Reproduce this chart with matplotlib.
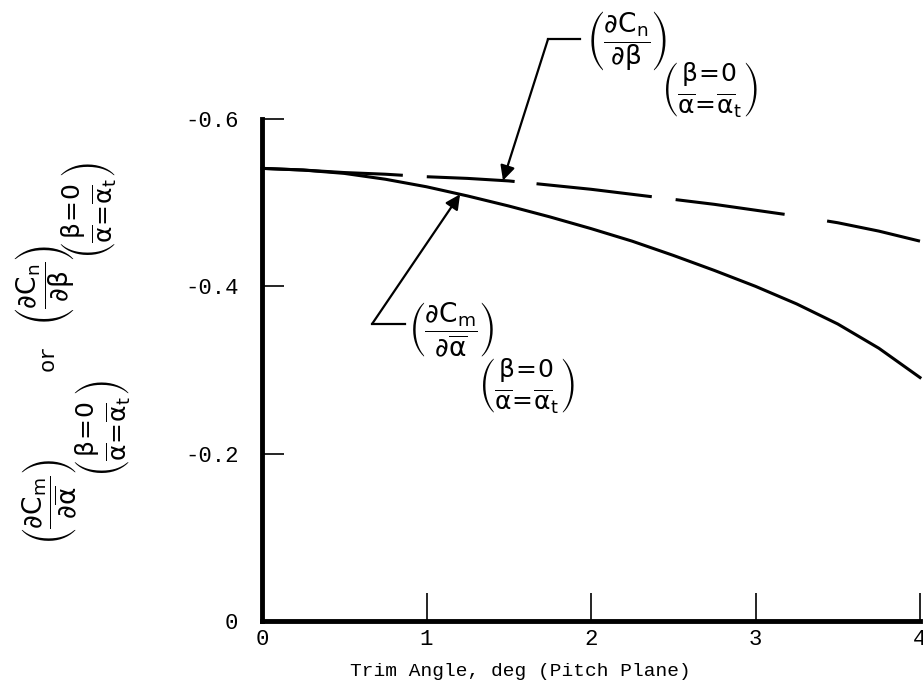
import numpy as np
import matplotlib
matplotlib.use("Agg")
import matplotlib.pyplot as plt

plt.rcParams["font.family"] = ["Liberation Mono", "DejaVu Sans Mono"]
plt.rcParams["mathtext.fontset"] = "dejavusans"
plt.rcParams["mathtext.default"] = "rm"
plt.rcParams["axes.unicode_minus"] = False

# trim angle, deg
trim_angle = [0, 0.25, 0.5, 0.75, 1.0, 1.25, 1.5, 1.75, 2.0,
              2.25, 2.5, 2.75, 3.0, 3.25, 3.5, 3.75, 4.0]
# yaw derivative dCn/dbeta (dashed)
dcn_dbeta = [-0.541, -0.539, -0.536, -0.534, -0.531, -0.529, -0.526, -0.521, -0.516,
             -0.510, -0.504, -0.498, -0.491, -0.484, -0.476, -0.466, -0.454]
# pitch derivative dCm/dalpha (solid)
dcm_dalpha = [-0.541, -0.539, -0.535, -0.528, -0.519, -0.508, -0.496, -0.483, -0.469,
              -0.454, -0.437, -0.419, -0.400, -0.379, -0.355, -0.326, -0.291]

x_ticks = [0, 1, 2, 3, 4]
x_ticklabels = ["0", "1", "2", "3", "4"]
y_ticks = [0, -0.2, -0.4, -0.6]
y_ticklabels = ["0", "-0.2", "-0.4", "-0.6"]

W, H = 923, 698
fig = plt.figure(figsize=(W / 100, H / 100), dpi=100)
ax = fig.add_axes([262 / W, 1 - 621 / H, 658 / W, 502 / H])

lw = 2.2
# hand-drawn dash lengths (pixels), converted to linewidth units
dash_px = [141, 24, 88, 22, 116, 24, 110, 43, 200, 20]
dash_seq = [d * 0.72 / lw for d in dash_px]
ax.plot(trim_angle, dcn_dbeta, color="k", lw=lw, dashes=dash_seq, clip_on=False)
ax.plot(trim_angle, dcm_dalpha, color="k", lw=lw, clip_on=False)

ax.set_xlim(0, 4)
ax.set_ylim(0, -0.6)
for s in ["top", "right"]:
    ax.spines[s].set_visible(False)
for s in ["left", "bottom"]:
    ax.spines[s].set_linewidth(3.5)
    ax.spines[s].set_capstyle("projecting")

ax.set_xticks(x_ticks, x_ticklabels)
ax.set_yticks(y_ticks, y_ticklabels)
ax.tick_params(axis="x", direction="in", length=20, width=1.2, pad=6, labelsize=16)
ax.tick_params(axis="y", direction="in", length=16, width=1.2, pad=17, labelsize=16)

ax.set_xlabel("Trim Angle, deg (Pitch Plane)", fontsize=14)
ax.xaxis.set_label_coords(0.392, -0.083)

frac_n = r"$\left(\dfrac{\partial C_n}{\partial \beta}\right)$"
frac_m = r"$\left(\dfrac{\partial C_m}{\partial \overline{\alpha}}\right)$"
cond = r"$\genfrac{(}{)}{0}{0}{\beta\!=\!0}{\overline{\alpha}\!=\!\overline{\alpha}_t}$"

# leader for dashed curve
xa = 1.465
ya = np.interp(xa, trim_angle, dcn_dbeta)
ax.plot([1.739, 1.933], [-0.6956, -0.6956], color="k", lw=1.6, clip_on=False)
ax.annotate("", xy=(xa, ya), xytext=(1.739, -0.6956), annotation_clip=False,
            arrowprops=dict(arrowstyle="-|>", color="k", lw=1.6, mutation_scale=22,
                            shrinkA=0, shrinkB=0))
ax.text(2.219, -0.693, frac_n, ha="center", va="center", fontsize=19, clip_on=False)
ax.text(2.723, -0.635, cond, ha="center", va="center", fontsize=18, clip_on=False)

# leader for solid curve
xb = 1.204
yb = np.interp(xb, trim_angle, dcm_dalpha)
ax.plot([0.669, 0.869], [-0.355, -0.355], color="k", lw=1.6, clip_on=False)
ax.annotate("", xy=(xb, yb), xytext=(0.669, -0.355), annotation_clip=False,
            arrowprops=dict(arrowstyle="-|>", color="k", lw=1.6, mutation_scale=22,
                            shrinkA=0, shrinkB=0))
ax.text(1.149, -0.348, frac_m, ha="center", va="center", fontsize=19, clip_on=False)
ax.text(1.611, -0.282, cond, ha="center", va="center", fontsize=18, clip_on=False)

# y label built from rotated pieces
def ftext(px, py, s, **kw):
    fig.text(px / W, 1 - py / H, s, rotation=90, ha="center", va="center", **kw)

ftext(50, 502, frac_m, fontsize=19)
ftext(103, 428, cond, fontsize=18)
ftext(48, 358, "or", fontsize=16)
ftext(45, 285, frac_n, fontsize=19)
ftext(89, 210, cond, fontsize=18)

fig.savefig("out.png", dpi=100)
